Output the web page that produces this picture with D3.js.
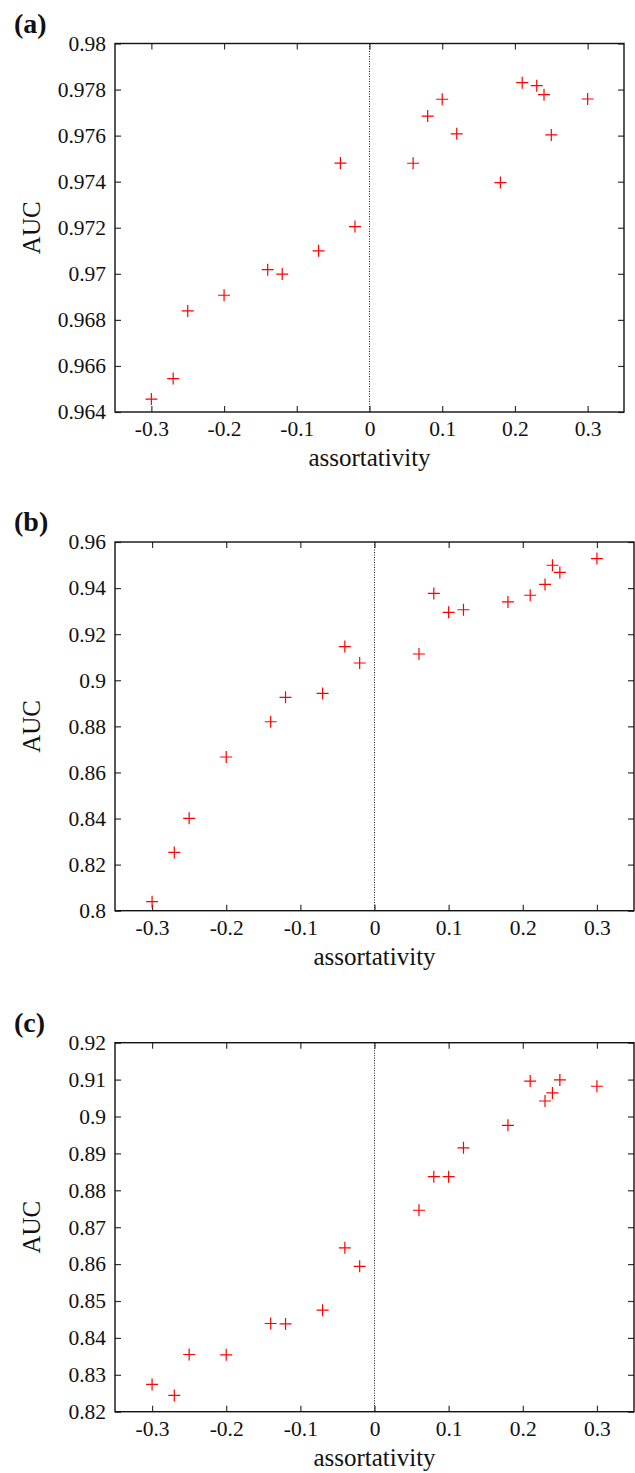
<!DOCTYPE html>
<html>
<head>
<meta charset="utf-8">
<script src="https://cdn.jsdelivr.net/npm/d3@7"></script>
<style>
body { margin: 0; background: #fff; }
</style>
</head>
<body>
<script>
// assortativity values, shared by all three panels
var assort = [-0.3, -0.27, -0.25, -0.2, -0.14, -0.12, -0.07, -0.04, -0.02,
              0.06, 0.08, 0.1, 0.12, 0.18, 0.21, 0.23, 0.24, 0.25, 0.3];

var aucA = [0.96456, 0.96545, 0.96839, 0.96907, 0.97018, 0.96999, 0.97100, 0.97481, 0.97205,
            0.97480, 0.97685, 0.97758, 0.97608, 0.97396, 0.97830, 0.97817, 0.97778, 0.97603, 0.97759];
var aucB = [0.8039, 0.8253, 0.8401, 0.8667, 0.8820, 0.8926, 0.8943, 0.9146, 0.9075,
            0.9114, 0.9377, 0.9295, 0.9306, 0.9340, 0.9369, 0.9416, 0.9499, 0.9468, 0.9528];
var aucC = [0.8274, 0.8244, 0.8355, 0.8354, 0.8439, 0.8438, 0.8475, 0.8644, 0.8594,
            0.8746, 0.8837, 0.8837, 0.8915, 0.8976, 0.9096, 0.9042, 0.9064, 0.9099, 0.9082];

var xTicks = [-0.3, -0.2, -0.1, 0, 0.1, 0.2, 0.3];
var yTicksA = [0.964, 0.966, 0.968, 0.97, 0.972, 0.974, 0.976, 0.978, 0.98];
var yTicksB = [0.8, 0.82, 0.84, 0.86, 0.88, 0.9, 0.92, 0.94, 0.96];
var yTicksC = [0.82, 0.83, 0.84, 0.85, 0.86, 0.87, 0.88, 0.89, 0.9, 0.91, 0.92];

var W = 635, H = 1473;
var FONT = "Liberation Serif";
var svg = d3.select("body").append("svg")
	.attr("width", W)
	.attr("height", H)
	.attr("font-family", FONT);

var fmt = function(d){ return String(+d.toFixed(4)); };

function drawPanel(tag, aucs, yTicks, box){
	var g = svg.append("g");

	var xScale = d3.scaleLinear()
		.domain([-0.35, 0.35])
		.range([box.left, box.right]);

	var yScale = d3.scaleLinear()
		.domain([yTicks[0], yTicks[yTicks.length - 1]])
		.range([box.bottom, box.top]);

	var tickLen = 6;

	// ticks, inward on all four sides
	var xAxisB = d3.axisBottom(xScale).tickValues(xTicks).tickFormat(fmt).tickSizeInner(-tickLen).tickSizeOuter(0).tickPadding(9);
	var xAxisT = d3.axisTop(xScale).tickValues(xTicks).tickFormat("").tickSizeInner(-tickLen).tickSizeOuter(0);
	var yAxisL = d3.axisLeft(yScale).tickValues(yTicks).tickFormat(fmt).tickSizeInner(-tickLen).tickSizeOuter(0).tickPadding(9);
	var yAxisR = d3.axisRight(yScale).tickValues(yTicks).tickFormat("").tickSizeInner(-tickLen).tickSizeOuter(0);

	var axes = [
		g.append("g").attr("transform", "translate(0," + box.bottom + ")").call(xAxisB),
		g.append("g").attr("transform", "translate(0," + box.top + ")").call(xAxisT),
		g.append("g").attr("transform", "translate(" + box.left + ",0)").call(yAxisL),
		g.append("g").attr("transform", "translate(" + box.right + ",0)").call(yAxisR)
	];
	axes.forEach(function(a){
		a.attr("font-family", FONT).attr("font-size", 21.5);
		a.select(".domain").remove();
		a.selectAll(".tick line").attr("stroke", "#333").attr("stroke-width", 1.2);
		a.selectAll(".tick text").attr("fill", "#111");
	});

	// zero line
	g.append("line")
		.attr("x1", xScale(0)).attr("x2", xScale(0))
		.attr("y1", box.top).attr("y2", box.bottom)
		.attr("stroke", "#000")
		.attr("stroke-width", 0.9)
		.attr("stroke-dasharray", "1,1.5");

	// frame
	g.append("rect")
		.attr("x", box.left).attr("y", box.top)
		.attr("width", box.right - box.left)
		.attr("height", box.bottom - box.top)
		.attr("fill", "none")
		.attr("stroke", "#111")
		.attr("stroke-width", 1.4);

	// points
	var pts = assort.map(function(a, i){ return {x: a, y: aucs[i]}; });
	g.selectAll(".pt")
		.data(pts)
		.enter()
		.append("path")
		.attr("class", "pt")
		.attr("transform", function(d){ return "translate(" + xScale(d.x) + "," + yScale(d.y) + ")"; })
		.attr("d", "M-6,0H6M0,-6V6")
		.attr("stroke", "#ff0000")
		.attr("stroke-width", 1.2)
		.attr("fill", "none");

	// labels
	g.append("text")
		.attr("x", (box.left + box.right) / 2)
		.attr("y", box.bottom + 54)
		.attr("text-anchor", "middle")
		.attr("font-size", 25)
		.attr("fill", "#111")
		.text("assortativity");

	g.append("text")
		.attr("x", 0).attr("y", 0)
		.attr("transform", "translate(40," + ((box.top + box.bottom) / 2) + ") rotate(-90)")
		.attr("text-anchor", "middle")
		.attr("font-size", 25)
		.attr("fill", "#111")
		.text("AUC");

	g.append("text")
		.attr("x", 14)
		.attr("y", box.top - 11)
		.attr("font-size", 28)
		.attr("font-weight", "bold")
		.attr("fill", "#111")
		.text(tag);
}

drawPanel("(a)", aucA, yTicksA, {left: 115, right: 624, top: 43.5, bottom: 412});
drawPanel("(b)", aucB, yTicksB, {left: 115, right: 634, top: 542, bottom: 910.7});
drawPanel("(c)", aucC, yTicksC, {left: 115, right: 634, top: 1042.7, bottom: 1411.7});
</script>
</body>
</html>
